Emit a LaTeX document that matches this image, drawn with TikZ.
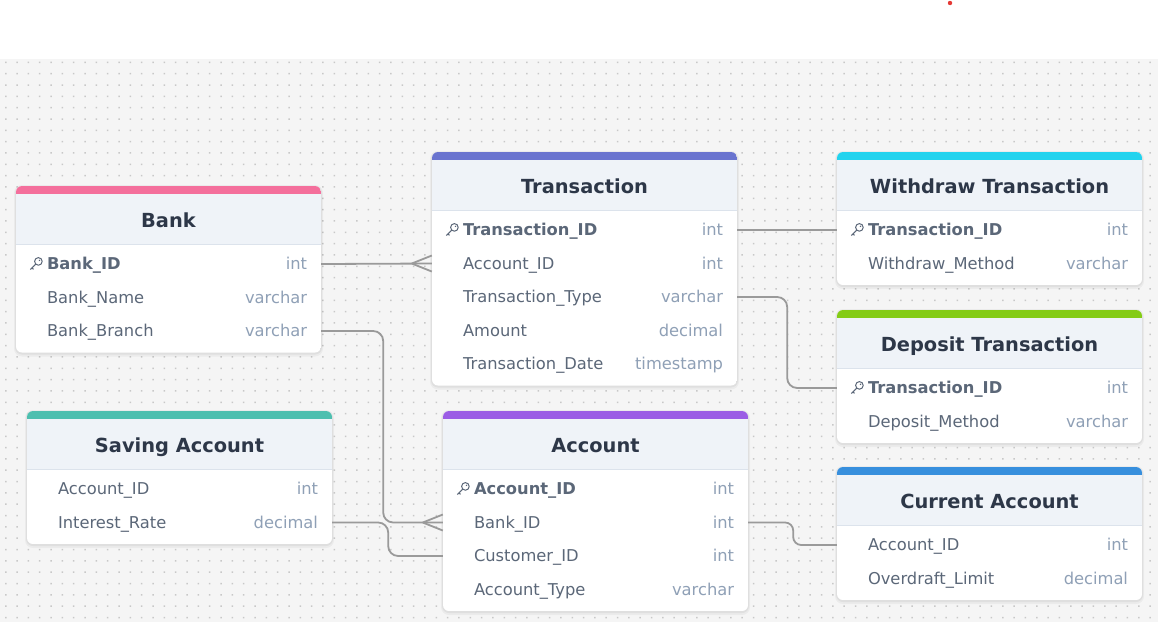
\documentclass[tikz,border=0pt]{standalone}
\usepackage{fontspec}
\setmainfont{DejaVu Sans}
\usetikzlibrary{calc}
\definecolor{bgc}{HTML}{F5F5F5}
\definecolor{dotc}{HTML}{C8C8C8}
\definecolor{headbg}{HTML}{EFF3F8}
\definecolor{headline}{HTML}{DCE3EC}
\definecolor{titlec}{HTML}{2D3748}
\definecolor{fldc}{HTML}{5B6778}
\definecolor{typc}{HTML}{8FA0B6}
\definecolor{relc}{HTML}{9A9A9A}
\definecolor{bankc}{HTML}{F46F9C}
\definecolor{transc}{HTML}{6A74CF}
\definecolor{wdc}{HTML}{22D3EE}
\definecolor{depc}{HTML}{84CC16}
\definecolor{savc}{HTML}{4DBFAF}
\definecolor{accc}{HTML}{9B5DE5}
\definecolor{curc}{HTML}{378FDD}
\definecolor{redc}{HTML}{E53935}
\tikzset{
  row/.style={minimum width=305, minimum height=33.5, inner sep=0},
  title/.style={inner sep=0, text height=14, text depth=0, text=titlec, font=\fontsize{19.4}{22}\selectfont\bfseries},
  fld/.style={anchor=west, inner sep=0, text height=11.5, text depth=0, text=fldc, font=\fontsize{16.3}{19}\selectfont},
  typ/.style={anchor=east, inner sep=0, text height=11.5, text depth=0, text=typc, font=\fontsize{16.3}{19}\selectfont},
  rel/.style={draw=relc, line width=1.8, rounded corners=10},
  pics/pkey/.style={code={\draw[fldc, line width=1] (2.6,-2.6) circle (3.8) (0,0) -- (-5.5,5.5) (-3.8,3.8) -- (-2.3,5.3); \fill[fldc] (3.7,-3.7) circle (0.8);}},
  pics/crow/.style={code={\draw[relc, line width=1.8] (-20,0) -- (0,-8) (-20,0) -- (0,8);}},
  pics/erbox/.style n args={2}{code={
    \fill[black, opacity=.04, rounded corners=8] (-2,-1) rectangle (307,{#1+4});
    \fill[black, opacity=.05, rounded corners=7] (-1,0) rectangle (306,{#1+2});
    \begin{scope}
    \clip[rounded corners=6] (0,0) rectangle (305,#1);
    \fill[white] (0,0) rectangle (305,#1);
    \fill[headbg] (0,8) rectangle (305,58);
    \fill[#2] (0,0) rectangle (305,8);
    \draw[headline, line width=1] (0,58) -- (305,58);
    \end{scope}}}
}

\begin{document}
\begin{tikzpicture}[x=1pt, y=-1pt]
\useasboundingbox (0,0) rectangle (1158,622);
% canvas
\fill[white] (0,0) rectangle (1158,59);
\fill[bgc] (0,59) rectangle (1158,622);
\foreach \j in {0,...,49} {
  \fill[dotc] \foreach \i in {0,...,101} {({5+11.33*\i},{61.6+11.33*\j}) rectangle ++(1.5,1.5)};
}
\fill[redc] (950,3) circle (2.2);

% Bank
\begin{scope}[shift={(16,186)}]
\pic {erbox={166.5}{bankc}};
\node[title] (bank) at (152.5,34) {Bank};
\foreach \f/\t/\k [count=\i] in {Bank\_ID/int/1, Bank\_Name/varchar/0, Bank\_Branch/varchar/0} {
  \node[row] (bank-\i) at (152.5,{44.5+33.5*\i}) {};
  \node[fld] at ([xshift=31]bank-\i.west) {\ifnum\k=1 \bfseries\fi\f};
  \node[typ] at ([xshift=-14]bank-\i.east) {\t};
  \ifnum\k=1 \pic at ([xshift=20]bank-\i.west) {pkey};\fi
}
\end{scope}

% Transaction
\begin{scope}[shift={(432,152)}]
\pic {erbox={233.5}{transc}};
\node[title] (trans) at (152.5,34) {Transaction};
\foreach \f/\t/\k [count=\i] in {Transaction\_ID/int/1, Account\_ID/int/0, Transaction\_Type/varchar/0, Amount/decimal/0, Transaction\_Date/timestamp/0} {
  \node[row] (trans-\i) at (152.5,{44.5+33.5*\i}) {};
  \node[fld] at ([xshift=31]trans-\i.west) {\ifnum\k=1 \bfseries\fi\f};
  \node[typ] at ([xshift=-14]trans-\i.east) {\t};
  \ifnum\k=1 \pic at ([xshift=20]trans-\i.west) {pkey};\fi
}
\end{scope}

% Withdraw Transaction
\begin{scope}[shift={(837,152)}]
\pic {erbox={133}{wdc}};
\node[title] (wd) at (152.5,34) {Withdraw Transaction};
\foreach \f/\t/\k [count=\i] in {Transaction\_ID/int/1, Withdraw\_Method/varchar/0} {
  \node[row] (wd-\i) at (152.5,{44.5+33.5*\i}) {};
  \node[fld] at ([xshift=31]wd-\i.west) {\ifnum\k=1 \bfseries\fi\f};
  \node[typ] at ([xshift=-14]wd-\i.east) {\t};
  \ifnum\k=1 \pic at ([xshift=20]wd-\i.west) {pkey};\fi
}
\end{scope}

% Deposit Transaction
\begin{scope}[shift={(837,310)}]
\pic {erbox={133}{depc}};
\node[title] (dep) at (152.5,34) {Deposit Transaction};
\foreach \f/\t/\k [count=\i] in {Transaction\_ID/int/1, Deposit\_Method/varchar/0} {
  \node[row] (dep-\i) at (152.5,{44.5+33.5*\i}) {};
  \node[fld] at ([xshift=31]dep-\i.west) {\ifnum\k=1 \bfseries\fi\f};
  \node[typ] at ([xshift=-14]dep-\i.east) {\t};
  \ifnum\k=1 \pic at ([xshift=20]dep-\i.west) {pkey};\fi
}
\end{scope}

% Saving Account
\begin{scope}[shift={(27,411)}]
\pic {erbox={133}{savc}};
\node[title] (sav) at (152.5,34) {Saving Account};
\foreach \f/\t [count=\i] in {Account\_ID/int, Interest\_Rate/decimal} {
  \node[row] (sav-\i) at (152.5,{44.5+33.5*\i}) {};
  \node[fld] at ([xshift=31]sav-\i.west) {\f};
  \node[typ] at ([xshift=-14]sav-\i.east) {\t};
}
\end{scope}

% Account
\begin{scope}[shift={(443,411)}]
\pic {erbox={200}{accc}};
\node[title] (acc) at (152.5,34) {Account};
\foreach \f/\t/\k [count=\i] in {Account\_ID/int/1, Bank\_ID/int/0, Customer\_ID/int/0, Account\_Type/varchar/0} {
  \node[row] (acc-\i) at (152.5,{44.5+33.5*\i}) {};
  \node[fld] at ([xshift=31]acc-\i.west) {\ifnum\k=1 \bfseries\fi\f};
  \node[typ] at ([xshift=-14]acc-\i.east) {\t};
  \ifnum\k=1 \pic at ([xshift=20]acc-\i.west) {pkey};\fi
}
\end{scope}

% Current Account
\begin{scope}[shift={(837,467)}]
\pic {erbox={133}{curc}};
\node[title] (cur) at (152.5,34) {Current Account};
\foreach \f/\t [count=\i] in {Account\_ID/int, Overdraft\_Limit/decimal} {
  \node[row] (cur-\i) at (152.5,{44.5+33.5*\i}) {};
  \node[fld] at ([xshift=31]cur-\i.west) {\f};
  \node[typ] at ([xshift=-14]cur-\i.east) {\t};
}
\end{scope}

% relations
\draw[rel] (bank-1.east) -- (trans-2.west); \pic at (trans-2.west) {crow};
\draw[rel] (bank-3.east) -- ([xshift=62]bank-3.east) |- (acc-2.west); \pic at (acc-2.west) {crow};
\draw[rel] (sav-2.east) -- ([xshift=56]sav-2.east) |- (acc-3.west);
\draw[rel] (trans-1.east) -- (wd-1.west);
\draw[rel] (trans-3.east) -- ([xshift=50]trans-3.east) |- (dep-1.west);
\draw[rel, rounded corners=8] (acc-2.east) -- ([xshift=45]acc-2.east) |- (cur-1.west);
\end{tikzpicture}
\end{document}
